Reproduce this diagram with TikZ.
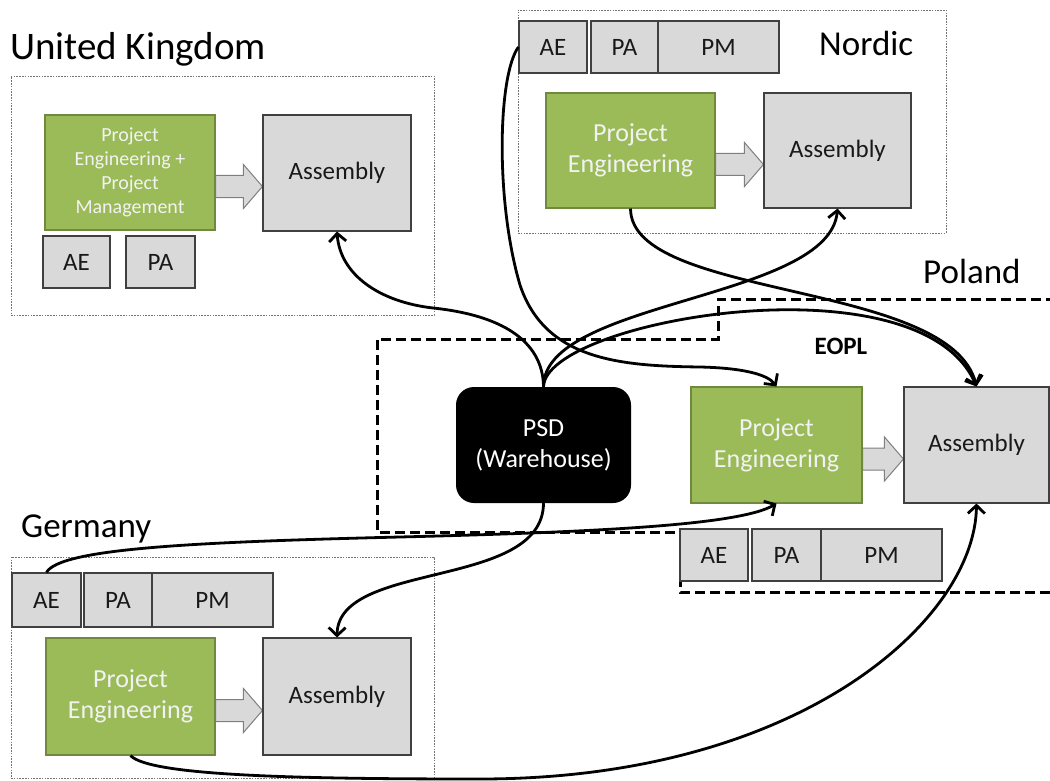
\documentclass[tikz,border=0pt]{standalone}
\usepackage{fontspec}
\setmainfont{Carlito}
\usetikzlibrary{arrows.meta,calc}
\definecolor{pegreen}{HTML}{9BBB59}
\definecolor{peedge}{HTML}{71893F}
\definecolor{boxgray}{HTML}{D9D9D9}
\definecolor{boxedge}{HTML}{404040}
\definecolor{arrowedge}{HTML}{7F7F7F}
\pgfdeclarelayer{background}
\pgfsetlayers{background,main}

\tikzset{
  curve/.style={line width=2.8pt, -{Straight Barb[length=8pt,width=17pt]}},
  region/.style={draw=black!55, line width=0.9pt, dash pattern=on 1.6pt off 1.2pt, inner sep=0pt},
  poland/.style={draw=black, line width=3pt, dash pattern=on 10pt off 5pt},
  grbox/.style={draw=boxedge, line width=1.1pt, fill=boxgray, inner sep=0pt, text=black!90,
    align=center, font=\fontsize{25}{30}\selectfont},
  pebox/.style={draw=peedge, line width=1.1pt, fill=pegreen, inner sep=0pt, text=white!95!black,
    align=center, font=\fontsize{26}{31}\selectfont},
  psdbox/.style={fill=black, rounded corners=18pt, inner sep=0pt, text=white,
    align=center, font=\fontsize{26}{31}\selectfont},
  blockarrow/.style={draw=arrowedge, fill=boxgray, line width=1pt},
  countrylabel/.style={anchor=base west, inner sep=0pt, font=\fontsize{35}{40}\selectfont},
  sz/.style 2 args={minimum width=#1pt, minimum height=#2pt},
}

% hollow block arrow from a project box to its assembly box
\newcommand{\flowarrow}[2]{%
  \path[blockarrow] let \p1=(#1.east), \p2=(#2.west), \p3=(#1.center) in
    (\x1,\y3-3pt) -- (\x2-19pt,\y3-3pt) -- (\x2-19pt,\y3+8pt) -- (\x2,\y3-14pt)
    -- (\x2-19pt,\y3-36pt) -- (\x2-19pt,\y3-25pt) -- (\x1,\y3-25pt) -- cycle;}

\begin{document}
\begin{tikzpicture}[x=1pt,y=-1pt]
\useasboundingbox (0,0) rectangle (1050,781);

% ---------- United Kingdom ----------
\node[region, sz={423}{239}] (ukreg) at (222.5,195.5) {};
\node[countrylabel, font=\fontsize{39}{44}\selectfont] (uklabel) at (10,60) {United Kingdom};
\node[pebox, sz={170}{115}, font=\fontsize{20}{24}\selectfont] (ukpe) at (130,172.5)
  {Project\\Engineering +\\Project\\Management};
\node[grbox, sz={148}{116}] (ukas) at (337,173) {Assembly};
\node[grbox, sz={67}{52}] (ukae) at (76.5,262) {AE};
\node[grbox, sz={69}{52}] (ukpa) at (160.5,262) {PA};

% ---------- Nordic ----------
\node[region, sz={428}{223}] (noreg) at (732,121.5) {};
\node[countrylabel] (nolabel) at (819,56) {Nordic};
\node[grbox, sz={68}{52}] (noae) at (553,47) {AE};
\node[grbox, sz={67}{52}] (nopa) at (624.5,47) {PA};
\node[grbox, sz={121}{52}] (nopm) at (718.5,47) {PM};
\node[pebox, sz={169}{115}] (nope) at (630.5,150.5) {Project\\Engineering};
\node[grbox, sz={147}{115}] (noas) at (837.5,150.5) {Assembly};

% ---------- Poland ----------
\draw[poland] (1056,299) -- (718,299) -- (718,339) -- (377,339) -- (377,532)
  -- (680,532) -- (680,592) -- (1056,592);
\node[countrylabel] (pllabel) at (923,283) {Poland};
\node[font=\bfseries\fontsize{25}{30}\selectfont, inner sep=0pt] (eopl) at (841,346) {EOPL};
\node[psdbox, sz={175}{116}] (psd) at (543.5,445) {PSD\\(Warehouse)};
\node[pebox, sz={171}{116}] (plpe) at (776.5,445) {Project\\Engineering};
\node[grbox, sz={145}{116}] (plas) at (976.5,445) {Assembly};
\node[grbox, sz={68}{52}] (plae) at (714,555) {AE};
\node[grbox, sz={69}{52}] (plpa) at (786.5,555) {PA};
\node[grbox, sz={121}{52}] (plpm) at (881.5,555) {PM};

% ---------- Germany ----------
\node[region, sz={423}{221}] (dereg) at (222.5,667.5) {};
\node[countrylabel] (delabel) at (21,537) {Germany};
\node[grbox, sz={69}{54}] (deae) at (46.5,600) {AE};
\node[grbox, sz={68}{54}] (depa) at (118,600) {PA};
\node[grbox, sz={121}{54}] (depm) at (212.5,600) {PM};
\node[pebox, sz={169}{117}] (depe) at (130.5,696.5) {Project\\Engineering};
\node[grbox, sz={148}{117}] (deas) at (337,696.5) {Assembly};

% ---------- hand-over arrows inside each site ----------
\begin{pgfonlayer}{background}
\flowarrow{ukpe}{ukas}
\flowarrow{nope}{noas}
\flowarrow{plpe}{plas}
\flowarrow{depe}{deas}
\end{pgfonlayer}

% ---------- flows between sites ----------
\draw[curve] (psd.north) .. controls (543,340) and (500,315) .. (433,308)
  .. controls (380,302) and (340,275) .. (ukas.south);
\draw[curve] (psd.north) .. controls (543,300) and (830,300) .. (noas.south);
\draw[curve] (psd.north) .. controls (545,320) and (920,255) .. (plas.north);
\draw[curve] (nope.south) .. controls (631,300) and (950,280) .. (plas.north);
\draw[curve] (noae.west) .. controls (498,75) and (495,200) .. (520,285)
  .. controls (545,360) and (620,366) .. (700,367)
  .. controls (745,368) and (768,375) .. (plpe.north);
\draw[curve] (psd.south) .. controls (543,590) and (338,560) .. (deas.north);
\draw[curve] (deae.north) .. controls (60,548) and (200,542) .. (400,537)
  .. controls (600,532) and (740,525) .. (plpe.south);
\draw[curve] (depe.south) .. controls (150,776) and (300,779) .. (480,779)
  .. controls (800,779) and (975,620) .. (plas.south);
\end{tikzpicture}
\end{document}
